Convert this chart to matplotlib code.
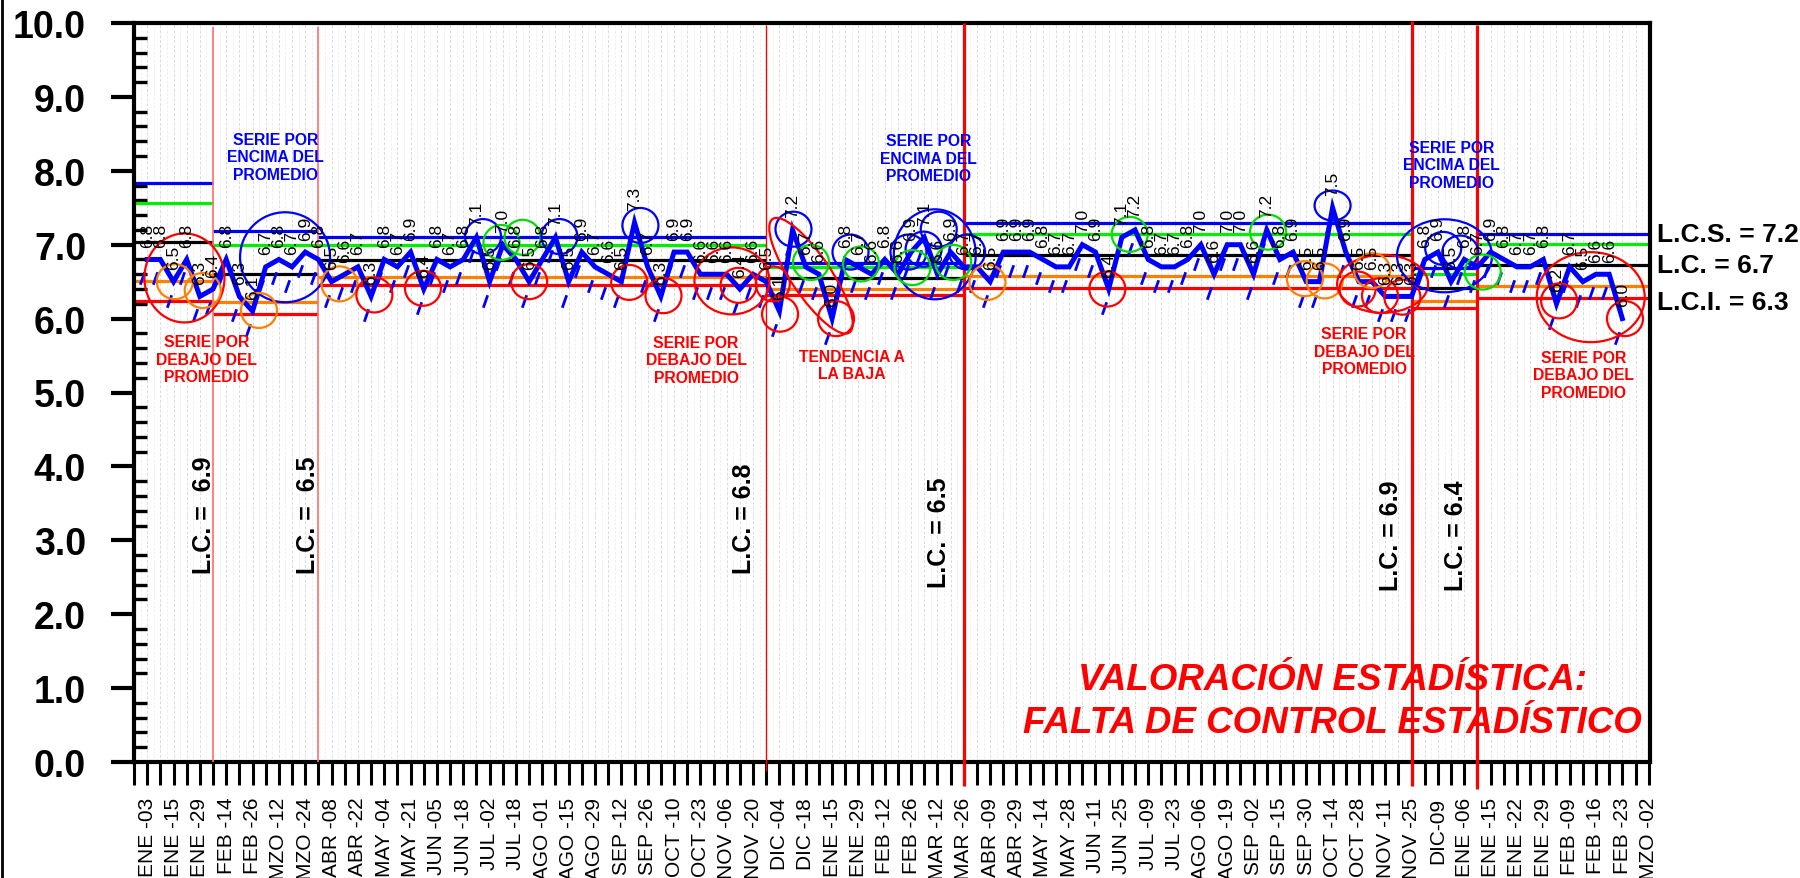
import matplotlib
matplotlib.use("Agg")
import matplotlib.pyplot as plt
from matplotlib.patches import Ellipse
from matplotlib.path import Path
from matplotlib.transforms import ScaledTranslation, blended_transform_factory
from matplotlib.lines import Line2D
from matplotlib.ticker import FixedLocator, MultipleLocator, NullFormatter

plt.rcParams['font.family'] = ['Liberation Sans', 'DejaVu Sans']

# ---------------- data ----------------
values = [6.8, 6.8, 6.5, 6.8, 6.3, 6.4,
          6.8, 6.3, 6.1, 6.7, 6.8, 6.7, 6.9, 6.8,
          6.5, 6.6, 6.7, 6.3, 6.8, 6.7, 6.9, 6.4, 6.8, 6.7, 6.8, 7.1, 6.5, 7.0, 6.8, 6.5, 6.8,
          7.1, 6.5, 6.9, 6.7, 6.6, 6.5, 7.3, 6.7, 6.3, 6.9, 6.9, 6.6, 6.6, 6.6, 6.4, 6.6, 6.5,
          6.1, 7.2, 6.7, 6.6, 6.0, 6.8, 6.7, 6.6, 6.8, 6.6, 6.9, 7.1, 6.6, 6.9, 6.7,
          6.7, 6.5, 6.9, 6.9, 6.9, 6.8, 6.7, 6.7, 7.0, 6.9, 6.4, 7.1, 7.2, 6.8, 6.7, 6.7, 6.8,
          7.0, 6.6, 7.0, 7.0, 6.6, 7.2, 6.8, 6.9, 6.5, 6.5, 7.5, 6.9, 6.5, 6.5, 6.3, 6.3, 6.3,
          6.8, 6.9, 6.5, 6.8, 6.7,
          6.9, 6.8, 6.7, 6.7, 6.8, 6.2, 6.7, 6.5, 6.6, 6.6, 6.0]

tick_labels = ["ENE -03", "ENE -15", "ENE -29", "FEB -14", "FEB -26", "MZO -12", "MZO -24",
               "ABR -08", "ABR -22", "MAY -04", "MAY -21", "JUN -05", "JUN -18", "JUL -02",
               "JUL -18", "AGO -01", "AGO -15", "AGO -29", "SEP -12", "SEP -26", "OCT -10",
               "OCT -23", "NOV -06", "NOV -20", "DIC -04", "DIC -18", "ENE -15", "ENE -29",
               "FEB -12", "FEB -26", "MAR -12", "MAR -26", "ABR -09", "ABR -29", "MAY -14",
               "MAY -28", "JUN -11", "JUN -25", "JUL -09", "JUL -23", "AGO -06", "AGO -19",
               "SEP -02", "SEP -15", "SEP -30", "OCT -14", "OCT -28", "NOV -11", "NOV -25",
               "DIC-09", "ENE -06", "ENE -15", "ENE -22", "ENE -29", "FEB -09", "FEB -16",
               "FEB -23", "MZO -02"]

# control limits per phase
phase_start = [0, 6, 14, 48, 63, 97, 102]
phase_end = [6, 14, 48, 63, 97, 102, 115]
lcs = [7.83, 7.18, 7.11, 6.75, 7.30, 6.69, 7.15]
upper2 = [7.57, 7.00, 7.00, 6.70, 7.15, 6.60, 7.01]
lc = [7.04, 6.61, 6.79, 6.55, 6.86, 6.42, 6.72]
lower2 = [6.51, 6.23, 6.56, 6.40, 6.57, 6.24, 6.44]
lci = [6.24, 6.06, 6.45, 6.32, 6.42, 6.15, 6.28]

lc_text = ["L.C. =  6.9", "L.C. =  6.5", "L.C. = 6.8", "L.C. = 6.5", "L.C. = 6.9", "L.C. = 6.4"]

# ---------------- figure ----------------
fig = plt.figure(figsize=(18, 8.79), dpi=100)
ax = fig.add_axes([134 / 1800, 116 / 879, 1516 / 1800, 739 / 879])
n = len(values)
xs = list(range(1, n + 1))
ax.set_xlim(0, 115.1)
ax.set_ylim(0, 10)

# light vertical grid
for g in range(1, 116):
    ax.axvline(g, color='#dadada', lw=0.7, ls=(0, (3, 2)), zorder=0)
    ax.axvline(g - 0.5, color='#ececec', lw=0.6, ls=(0, (3, 2)), zorder=0)

# control limit lines
for i in range(len(phase_start)):
    a, b = phase_start[i], phase_end[i]
    for val, col in [(lcs[i], '#0000ff'), (upper2[i], '#00ee00'), (lc[i], 'black'),
                     (lower2[i], '#ff8000'), (lci[i], '#ff0000')]:
        ax.hlines(val, a, b, colors=col, lw=2.3, zorder=2)

# phase separators
for k, col, lw, y0, y1 in [(6, '#ff7070', 1.2, 0, 9.95), (14, '#ff7070', 1.2, 0, 9.95),
                           (48, '#ff0000', 1.0, -0.12, 9.97), (63, '#ff0000', 2.3, -0.32, 10.0),
                           (97, '#ff0000', 2.3, -0.32, 10.03), (102, '#ff0000', 2.3, -0.37, 9.97)]:
    ax.vlines(k, y0, y1, colors=col, lw=lw, zorder=3, clip_on=False)

# main series
ax.plot(xs, values, color='#0000ff', lw=3.6, zorder=4, solid_joinstyle='miter')

# blue slash marks under points
slash = Path([(-0.35, -1.0), (0.35, 1.0)], [Path.MOVETO, Path.LINETO])
off = ScaledTranslation(-5 / 100, -19 / 100, fig.dpi_scale_trans)
ax.plot(xs, values, ls='none', marker=slash, ms=9, mew=2.0, color='#0000ff',
        transform=ax.transData + off, zorder=4)

# value labels
for x, v in zip(xs, values):
    ax.annotate(f"{v:.1f}", (x, v), xytext=(0, 9), textcoords='offset points',
                rotation=90, ha='center', va='bottom', fontsize=12.5, color='black', zorder=6)

# circles / ellipses (center in data units, size in pixels)
circles = [
    (3.83, 6.55, 80, 89, 'r', 0), (3.1, 6.50, 36, 35, 'o', 0), (5.22, 6.38, 36, 35, 'o', 0),
    (11.47, 6.83, 90, 90, 'b', 0), (9.49, 6.11, 36, 35, 'o', 0), (15.6, 6.47, 36, 35, 'o', 0),
    (18.25, 6.32, 36, 35, 'r', 0), (21.94, 6.41, 36, 35, 'r', 0), (26.5, 7.11, 36, 35, 'b', 0),
    (27.9, 7.03, 36, 35, 'g', 0), (29.5, 7.10, 36, 35, 'g', 0), (30.0, 6.50, 36, 35, 'r', 0),
    (32.3, 7.11, 36, 35, 'b', 0), (38.45, 7.26, 36, 35, 'b', 0), (37.6, 6.49, 36, 35, 'r', 0),
    (40.2, 6.31, 36, 35, 'r', 0), (45.4, 6.51, 75, 67, 'r', 0), (45.9, 6.45, 36, 35, 'r', 0),
    (48.5, 6.47, 34, 35, 'r', 0), (49.05, 6.06, 36, 35, 'r', 0), (50.07, 7.21, 36, 35, 'b', 0),
    (51.4, 6.58, 137, 40, 'r', -56), (51.4, 6.76, 36, 35, 'g', 0), (53.3, 6.0, 36, 35, 'r', 0),
    (54.4, 6.90, 36, 35, 'b', 0), (55.2, 6.74, 36, 35, 'g', 0), (60.8, 6.87, 82, 90, 'b', 0),
    (61.1, 7.21, 36, 35, 'b', 0), (58.8, 6.90, 36, 35, 'b', 0), (63.25, 6.90, 36, 35, 'b', 0),
    (59.95, 6.94, 36, 35, 'b', 0), (59.1, 6.69, 36, 35, 'g', 0), (62.2, 6.76, 36, 35, 'g', 0),
    (64.8, 6.49, 36, 35, 'o', 0), (73.9, 6.40, 36, 35, 'r', 0), (75.6, 7.14, 36, 35, 'g', 0),
    (86.1, 7.17, 36, 35, 'g', 0), (91.0, 7.53, 36, 30, 'b', 0), (88.9, 6.54, 36, 35, 'o', 0),
    (90.4, 6.51, 36, 35, 'o', 0), (94.8, 6.47, 91, 58, 'r', 0), (92.9, 6.40, 36, 35, 'r', 0),
    (94.6, 6.31, 36, 35, 'r', 0), (96.3, 6.29, 36, 35, 'r', 0), (94.0, 6.65, 36, 35, 'o', 0),
    (99.5, 6.85, 95, 73, 'b', 0), (99.4, 6.95, 36, 33, 'b', 0), (100.7, 6.90, 36, 33, 'b', 0),
    (102.4, 6.63, 36, 35, 'g', 0), (110.6, 6.29, 108, 90, 'r', 0), (108.2, 6.24, 36, 35, 'r', 0),
    (113.2, 6.0, 36, 35, 'r', 0),
]
cmap = {'r': '#ff0000', 'o': '#ff8000', 'g': '#00dd00', 'b': '#0000ff'}
for cx, cy, w, h, c, ang in circles:
    tr = fig.dpi_scale_trans + ScaledTranslation(cx, cy, ax.transData)
    ax.add_patch(Ellipse((0, 0), w / 100, h / 100, angle=ang, transform=tr, fill=False,
                         edgecolor=cmap[c], lw=1.6, zorder=5, clip_on=False))

# annotation texts
notes = [
    (10.75, 8.19, "SERIE POR\nENCIMA DEL\nPROMEDIO", '#0000ff'),
    (5.52, 5.45, "SERIE POR\nDEBAJO DEL\nPROMEDIO", '#ff0000'),
    (60.3, 8.17, "SERIE POR\nENCIMA DEL\nPROMEDIO", '#0000ff'),
    (42.67, 5.44, "SERIE POR\nDEBAJO DEL\nPROMEDIO", '#ff0000'),
    (54.5, 5.37, "TENDENCIA A\nLA BAJA", '#ff0000'),
    (100.05, 8.08, "SERIE POR\nENCIMA DEL\nPROMEDIO", '#0000ff'),
    (93.4, 5.56, "SERIE POR\nDEBAJO DEL\nPROMEDIO", '#ff0000'),
    (110.07, 5.24, "SERIE POR\nDEBAJO DEL\nPROMEDIO", '#ff0000'),
]
for x, y, t, c in notes:
    ax.text(x, y, t, color=c, fontsize=11.3, fontweight='bold', ha='center', va='center',
            linespacing=1.2, zorder=7)

# L.C. vertical labels
lc_pos = [(5.3, 2.56), (13.2, 2.56), (46.3, 2.56), (61.1, 2.37), (95.4, 2.33), (100.4, 2.33)]
for (x, y), t in zip(lc_pos, lc_text):
    ax.text(x, y, t, rotation=90, ha='center', va='bottom', fontsize=18,
            fontweight='bold', color='black', zorder=7)

# big statement
ax.text(90.96, 1.11, "VALORACIÓN ESTADÍSTICA:", color='#ff0000', fontsize=26.5,
        fontweight='bold', style='italic', ha='center', va='center', zorder=7)
ax.text(90.96, 0.54, "FALTA DE CONTROL ESTADÍSTICO", color='#ff0000', fontsize=26.5,
        fontweight='bold', style='italic', ha='center', va='center', zorder=7)

# right-hand limit labels
bt = blended_transform_factory(ax.transAxes, ax.transData)
for y, t in [(7.14, "L.C.S. = 7.2"), (6.73, "L.C. = 6.7"), (6.22, "L.C.I. = 6.3")]:
    ax.text(1.0046, y, t, transform=bt, fontsize=19, fontweight='bold', va='center',
            ha='left', clip_on=False)

# axes styling
for s in ax.spines.values():
    s.set_linewidth(3)
ax.yaxis.set_major_locator(MultipleLocator(1))
ax.yaxis.set_minor_locator(MultipleLocator(0.2))
ax.yaxis.set_major_formatter(plt.FuncFormatter(lambda v, p: f"{v:.1f}"))
ax.tick_params(axis='y', which='major', direction='out', length=16.5, width=3, pad=18,
               labelsize=27)
ax.tick_params(axis='y', which='minor', direction='in', length=9.4, width=2.4)
for lab in ax.get_yticklabels():
    lab.set_fontweight('bold')

ax.xaxis.set_major_locator(FixedLocator(list(range(1, 116, 2))))
ax.xaxis.set_minor_locator(FixedLocator(list(range(0, 116, 2))))
ax.set_xticklabels(tick_labels, rotation=90, fontsize=15, va='top', ha='center')
ax.xaxis.set_minor_formatter(NullFormatter())
ax.tick_params(axis='x', which='both', direction='out', length=16.5, width=2.2, pad=8.6)

# left border of the image
fig.add_artist(Line2D([0.0012, 0.0012], [0, 1], color='black', lw=2, transform=fig.transFigure))

fig.savefig("out.png", dpi=100, facecolor='white')
